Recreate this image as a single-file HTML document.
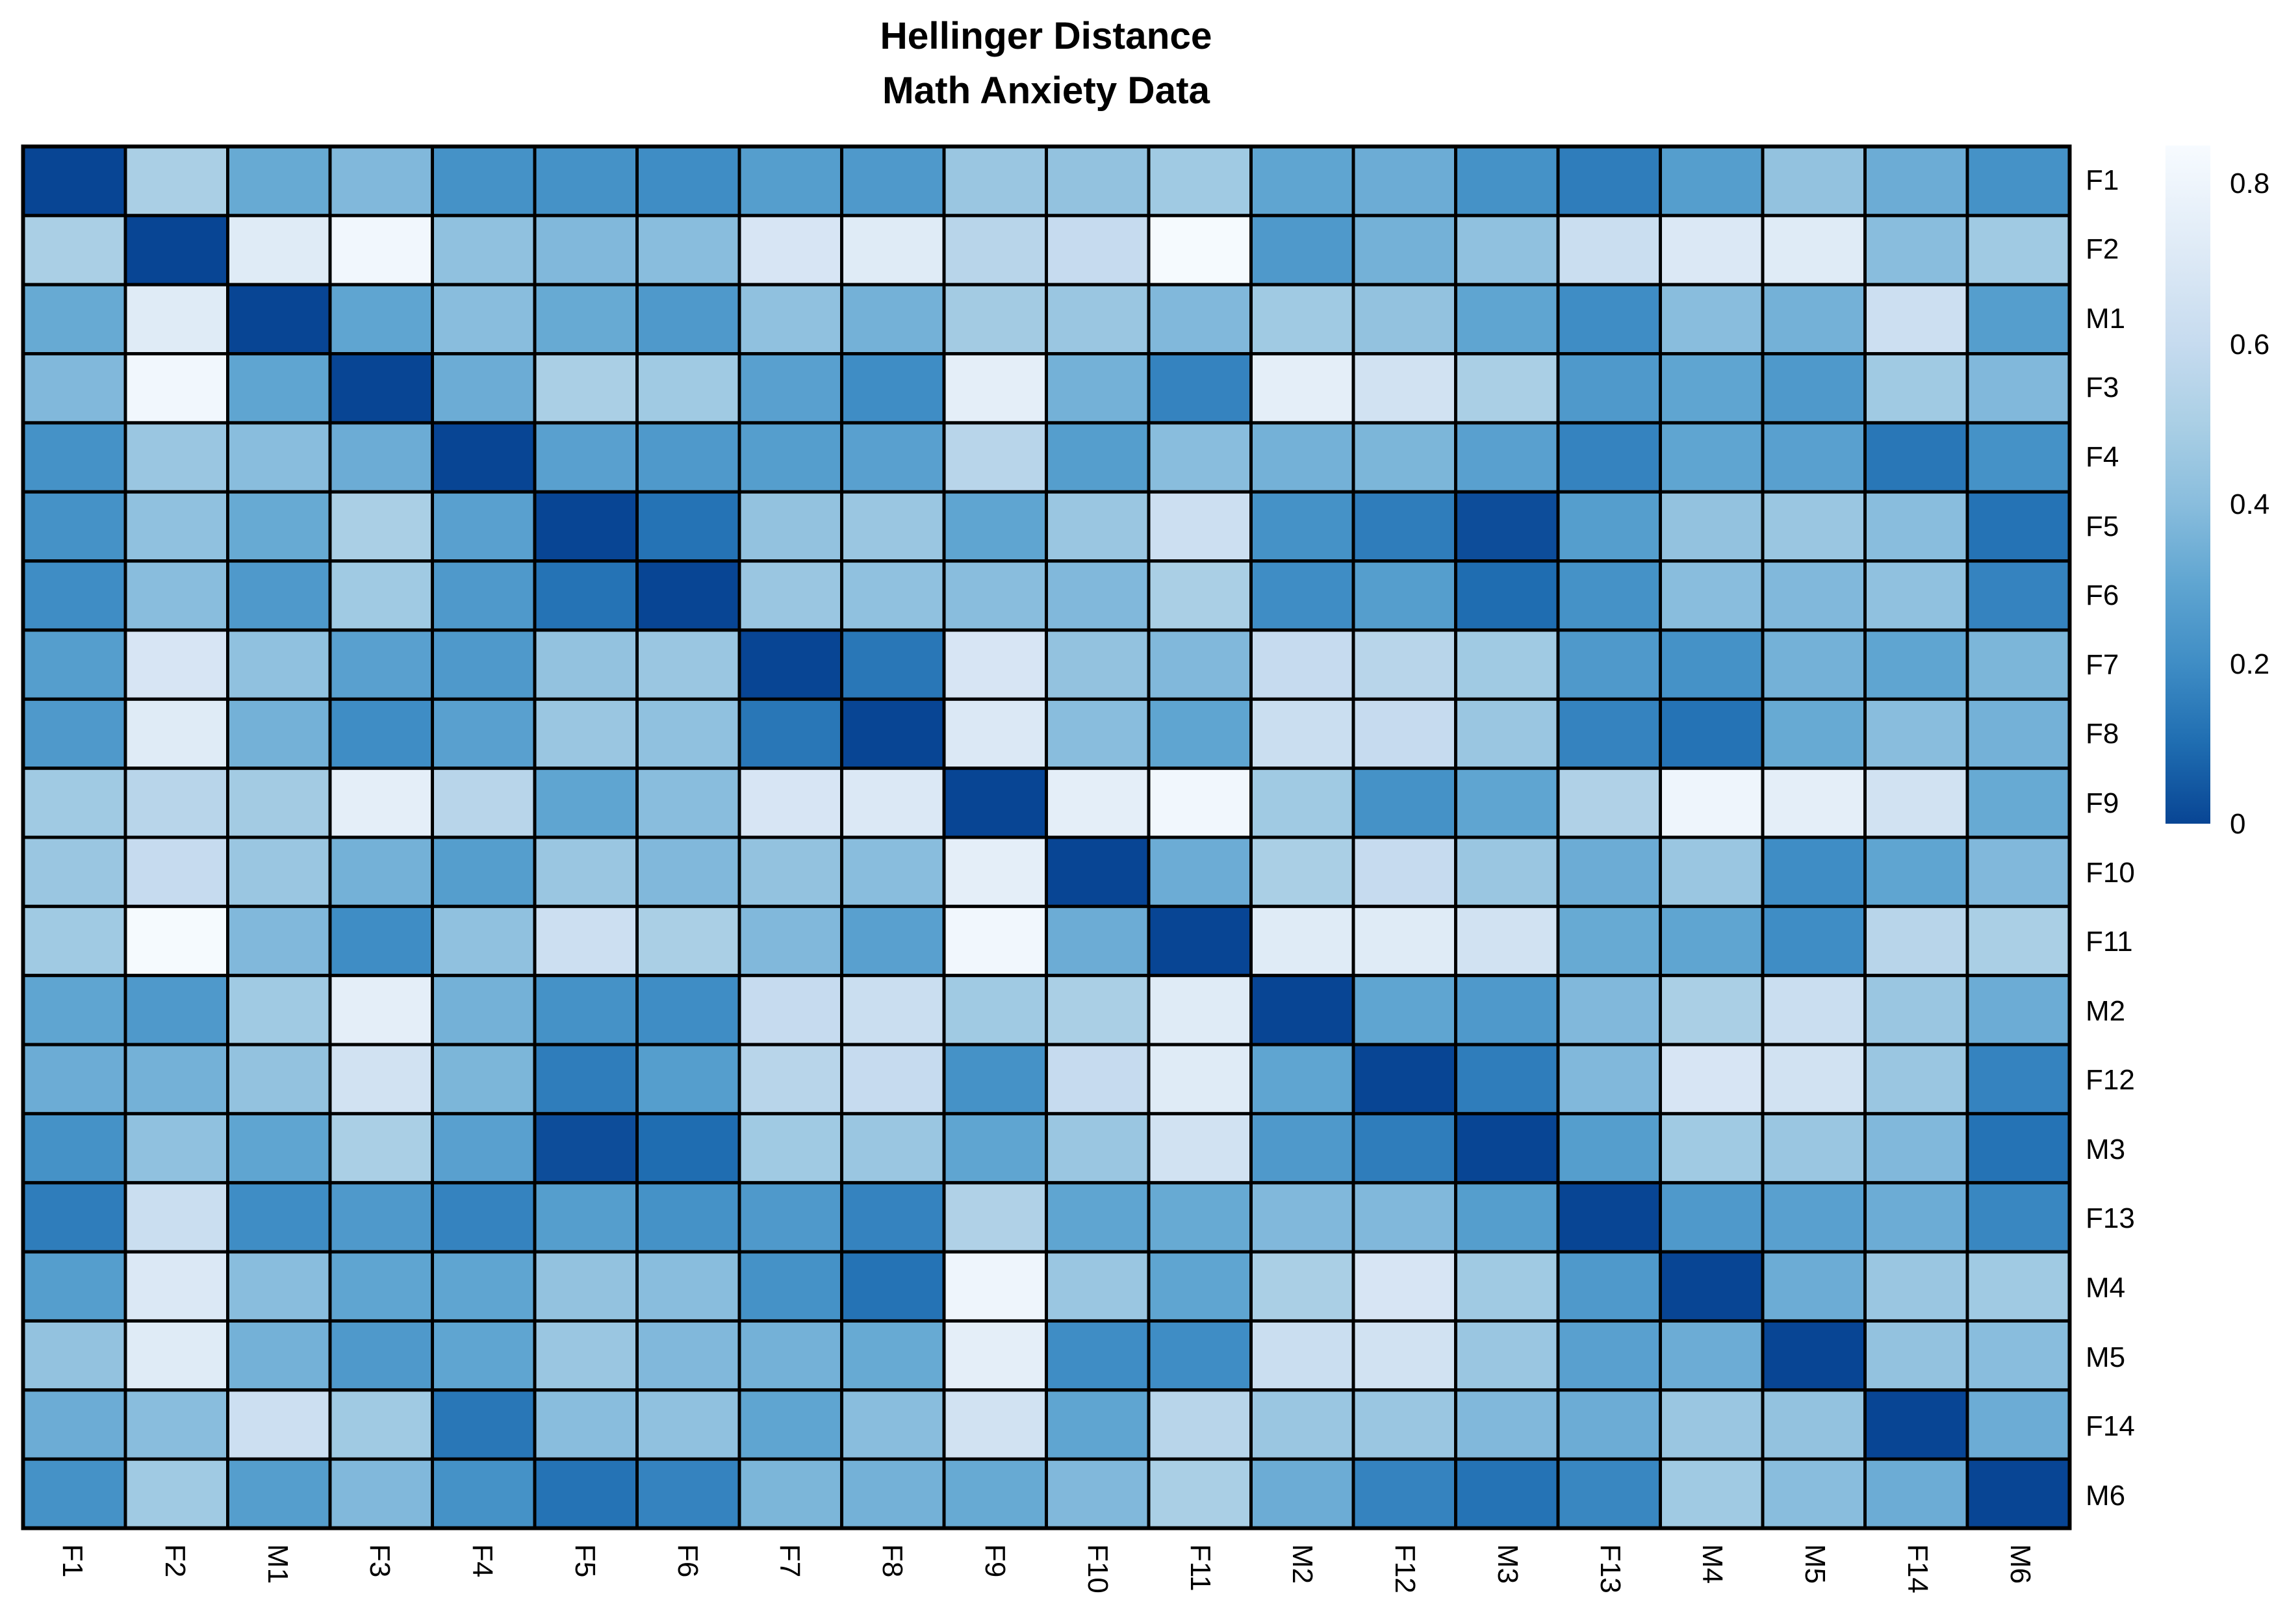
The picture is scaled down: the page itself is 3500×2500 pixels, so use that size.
<!DOCTYPE html>
<html><head><meta charset="utf-8"><style>
html,body{margin:0;padding:0;background:#fff;}
svg{display:block;font-family:"Liberation Sans",Arial,sans-serif;}
</style></head><body>
<svg id="s" width="3500" height="2500" viewBox="0 0 3500 2500" xmlns="http://www.w3.org/2000/svg">
<defs>
<linearGradient id="lg" x1="0" y1="1" x2="0" y2="0">
<stop offset="0" stop-color="#084594"/>
<stop offset="0.118" stop-color="#1f6db1"/>
<stop offset="0.236" stop-color="#3f8dc5"/>
<stop offset="0.353" stop-color="#5fa5d1"/>
<stop offset="0.471" stop-color="#89bddd"/>
<stop offset="0.589" stop-color="#aacfe5"/>
<stop offset="0.707" stop-color="#c6dbef"/>
<stop offset="0.824" stop-color="#dbe8f5"/>
<stop offset="1" stop-color="#f7fbff"/>
</linearGradient>
</defs>
<text x="1610" y="75" font-size="58" font-weight="bold" text-anchor="middle" textLength="511" lengthAdjust="spacingAndGlyphs">Hellinger Distance</text>
<text x="1610" y="159" font-size="58" font-weight="bold" text-anchor="middle" textLength="504" lengthAdjust="spacingAndGlyphs">Math Anxiety Data</text>
<g id="cells"></g>
<rect x="3333" y="224" width="69" height="1044" fill="url(#lg)"/>
<g font-size="44" fill="#000">
<text x="3432" y="297">0.8</text>
<text x="3432" y="545">0.6</text>
<text x="3432" y="791">0.4</text>
<text x="3432" y="1037">0.2</text>
<text x="3432" y="1283">0</text>
</g>
<g font-size="44" fill="#000" id="rl">
<text x="3210" y="292">F1</text>
<text x="3210" y="398">F2</text>
<text x="3210" y="505">M1</text>
<text x="3210" y="611">F3</text>
<text x="3210" y="718">F4</text>
<text x="3210" y="825">F5</text>
<text x="3210" y="931">F6</text>
<text x="3210" y="1038">F7</text>
<text x="3210" y="1144">F8</text>
<text x="3210" y="1251">F9</text>
<text x="3210" y="1358">F10</text>
<text x="3210" y="1464">F11</text>
<text x="3210" y="1571">M2</text>
<text x="3210" y="1677">F12</text>
<text x="3210" y="1784">M3</text>
<text x="3210" y="1890">F13</text>
<text x="3210" y="1997">M4</text>
<text x="3210" y="2104">M5</text>
<text x="3210" y="2210">F14</text>
<text x="3210" y="2317">M6</text>
</g>
<g font-size="44" fill="#000">
<text transform="translate(97,2377) rotate(90)">F1</text>
<text transform="translate(255,2377) rotate(90)">F2</text>
<text transform="translate(413,2377) rotate(90)">M1</text>
<text transform="translate(570,2377) rotate(90)">F3</text>
<text transform="translate(728,2377) rotate(90)">F4</text>
<text transform="translate(886,2377) rotate(90)">F5</text>
<text transform="translate(1044,2377) rotate(90)">F6</text>
<text transform="translate(1201,2377) rotate(90)">F7</text>
<text transform="translate(1359,2377) rotate(90)">F8</text>
<text transform="translate(1517,2377) rotate(90)">F9</text>
<text transform="translate(1675,2377) rotate(90)">F10</text>
<text transform="translate(1833,2377) rotate(90)">F11</text>
<text transform="translate(1990,2377) rotate(90)">M2</text>
<text transform="translate(2148,2377) rotate(90)">F12</text>
<text transform="translate(2306,2377) rotate(90)">M3</text>
<text transform="translate(2464,2377) rotate(90)">F13</text>
<text transform="translate(2621,2377) rotate(90)">M4</text>
<text transform="translate(2779,2377) rotate(90)">M5</text>
<text transform="translate(2937,2377) rotate(90)">F14</text>
<text transform="translate(3095,2377) rotate(90)">M6</text>
</g>
</svg>
<script>
var M=[
[0,.5,.32,.38,.22,.22,.2,.27,.25,.45,.43,.47,.3,.33,.22,.15,.27,.43,.33,.22],
[.5,0,.72,.82,.42,.38,.4,.68,.72,.55,.6,.84,.25,.35,.42,.62,.7,.72,.4,.47],
[.32,.72,0,.3,.4,.32,.25,.42,.35,.48,.45,.38,.47,.43,.3,.2,.4,.35,.63,.27],
[.38,.82,.3,0,.33,.5,.47,.28,.2,.75,.35,.17,.75,.65,.5,.25,.3,.25,.47,.38],
[.22,.45,.4,.33,0,.28,.25,.27,.28,.55,.27,.4,.35,.37,.28,.17,.3,.28,.13,.22],
[.22,.42,.32,.5,.28,0,.12,.43,.45,.3,.45,.63,.22,.15,.02,.27,.43,.45,.4,.12],
[.2,.4,.25,.47,.25,.12,0,.45,.42,.4,.38,.5,.2,.27,.1,.22,.4,.38,.42,.17],
[.27,.68,.42,.28,.25,.43,.45,0,.13,.68,.43,.38,.6,.55,.47,.25,.22,.35,.3,.37],
[.25,.72,.35,.2,.28,.45,.42,.13,0,.7,.4,.3,.62,.6,.45,.17,.12,.32,.4,.35],
[.47,.55,.48,.75,.55,.3,.4,.68,.7,0,.75,.82,.47,.22,.3,.52,.8,.75,.65,.32],
[.45,.6,.45,.35,.27,.45,.38,.43,.4,.75,0,.33,.5,.6,.45,.33,.45,.2,.3,.38],
[.47,.84,.38,.2,.42,.63,.5,.38,.28,.82,.33,0,.72,.72,.65,.32,.3,.2,.55,.5],
[.3,.25,.47,.75,.35,.22,.2,.6,.62,.47,.5,.72,0,.3,.25,.38,.5,.62,.45,.33],
[.33,.35,.43,.65,.37,.15,.27,.55,.6,.22,.6,.72,.3,0,.15,.38,.68,.65,.45,.17],
[.22,.42,.3,.5,.28,.02,.1,.47,.45,.3,.45,.65,.25,.15,0,.27,.47,.45,.38,.12],
[.15,.62,.2,.25,.17,.27,.22,.25,.17,.52,.3,.32,.38,.38,.27,0,.25,.28,.33,.18],
[.27,.7,.4,.3,.3,.43,.4,.22,.12,.8,.45,.3,.5,.68,.47,.25,0,.33,.45,.47],
[.43,.72,.35,.25,.3,.45,.38,.35,.32,.75,.2,.2,.62,.65,.45,.28,.33,0,.43,.4],
[.33,.4,.63,.47,.13,.4,.42,.3,.4,.65,.3,.55,.45,.45,.38,.33,.45,.43,0,.33],
[.22,.47,.27,.38,.22,.12,.17,.37,.35,.32,.38,.5,.33,.17,.12,.18,.47,.4,.33,0]];
var S=[[0,[8,69,148]],[.1,[31,109,177]],[.2,[63,141,197]],[.3,[95,165,209]],[.4,[137,189,221]],[.5,[170,207,229]],[.6,[198,219,239]],[.7,[219,232,245]],[.85,[247,251,255]]];
function col(v){for(var i=0;i<S.length-1;i++){if(v<=S[i+1][0]){var t=(v-S[i][0])/(S[i+1][0]-S[i][0]);var a=S[i][1],b=S[i+1][1];return 'rgb('+a.map(function(x,k){return Math.round(x+(b[k]-x)*t)}).join(',')+')';}}return 'rgb(247,251,255)';}
var g=document.getElementById('cells'),ns='http://www.w3.org/2000/svg';
var x0=35.5,y0=225.5,W=3185.5-35.5,H=2352.5-225.5,cw=W/20,ch=H/20;
for(var r=0;r<20;r++)for(var c=0;c<20;c++){var e=document.createElementNS(ns,'rect');e.setAttribute('x',x0+c*cw);e.setAttribute('y',y0+r*ch);e.setAttribute('width',cw);e.setAttribute('height',ch);e.setAttribute('fill',col(M[r][c]));e.setAttribute('stroke','#000');e.setAttribute('stroke-width','5');g.appendChild(e);}
var b=document.createElementNS(ns,'rect');b.setAttribute('x',x0);b.setAttribute('y',y0);b.setAttribute('width',W);b.setAttribute('height',H);b.setAttribute('fill','none');b.setAttribute('stroke','#000');b.setAttribute('stroke-width','6');g.appendChild(b);
</script>
</body></html>
